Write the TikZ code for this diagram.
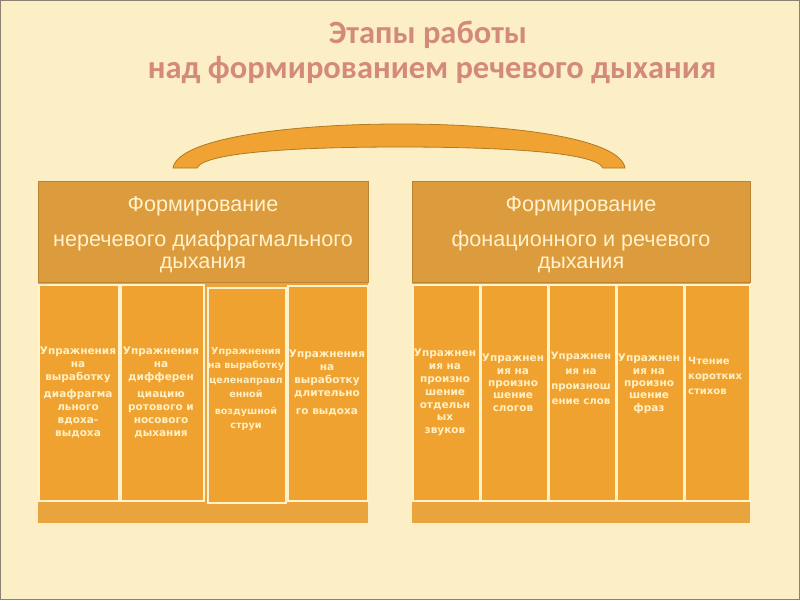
\documentclass[tikz,border=0pt]{standalone}
\usepackage{fontspec}
\setmainfont{Liberation Sans}
\newfontfamily\titlefont{Carlito}
\newfontfamily\colfont{DejaVu Sans}
\definecolor{bgc}{HTML}{FCEFC6}
\definecolor{frame}{HTML}{8C8274}
\definecolor{titlec}{HTML}{D48A7A}
\definecolor{arcfill}{HTML}{F0A232}
\definecolor{arcline}{HTML}{B07A22}
\definecolor{hdrc}{HTML}{DC9B3C}
\definecolor{colc}{HTML}{EFA22F}
\definecolor{stripc}{HTML}{E9A43E}
\definecolor{creamc}{HTML}{FFF2CC}
\definecolor{txtc}{HTML}{FFF0C4}
\tikzset{
  titletxt/.style={font=\titlefont\bfseries\fontsize{32.5}{36}\selectfont, text=titlec, inner sep=0},
  grpbox/.style={fill=stripc, draw=none, anchor=north west, inner sep=0},
  hdrbox/.style={fill=hdrc, draw=hdrc!85!black, line width=0.5pt, anchor=north west, inner sep=0},
  hdrtxt/.style={text=creamc, align=center, inner sep=0, font=\fontsize{21.6}{22}\selectfont},
  colbox/.style={fill=colc, draw=creamc, line width=1.5pt, anchor=north west, inner sep=0},
  coltxt/.style={text=txtc, align=center, anchor=north, inner sep=0,
     font=\colfont\bfseries\fontsize{10.5}{13}\selectfont},
}
\begin{document}
\begin{tikzpicture}[x=1pt,y=-1pt]
\useasboundingbox (0,0) rectangle (800,600);
\fill[bgc] (0,0) rectangle (800,600);
\draw[frame, line width=1pt] (0.5,0.5) rectangle (799.5,599.5);

% title
\node[titletxt, anchor=base] (t1) at (428,43) {Этапы работы};
\node[titletxt, anchor=base] (t2) at (432,78) {над формированием речевого дыхания};

% arc
\filldraw[fill=arcfill, draw=arcline, line width=0.8pt]
  (173,168) .. controls (178,138) and (290,124) .. (400,124)
  .. controls (510,124) and (620,138) .. (625,168)
  -- (603,168) .. controls (596,152) and (500,147) .. (400,147)
  .. controls (300,147) and (204,152) .. (197,168) -- cycle;

% left group
\node[grpbox, minimum width=330pt, minimum height=342pt] (gL) at (38,181) {};
\node[hdrbox, minimum width=330pt, minimum height=101pt] (hL) at (38,181) {};
\node[hdrtxt] (hLt) at (203,235) {Формирование\\[13pt]неречевого диафрагмального\\дыхания};
\node[colbox, minimum width=80pt, minimum height=216pt] (c1) at (38,284) {};
\node[colbox, minimum width=83pt, minimum height=216pt] (c2) at (120,284) {};
\node[colbox, minimum width=78pt, minimum height=215pt] (c3) at (207,287) {};
\node[colbox, minimum width=80pt, minimum height=215pt] (c4) at (287,285) {};

\node[coltxt] (c1t) at (78,347) {Упражнения\\на\\выработку\\[4pt]диафрагма\\льного\\вдоха-\\выдоха};
\node[coltxt] (c2t) at (161,347) {Упражнения\\на\\дифферен\\[4pt]циацию\\ротового и\\носового\\дыхания};
\node[coltxt, font=\colfont\bfseries\fontsize{9.6}{14.5}\selectfont] (c3t) at (246,347)
  {Упражнения\\на выработку\\целенаправл\\енной\\[2pt]воздушной\\струи};
\node[coltxt] (c4t) at (327,350) {Упражнения\\на\\выработку\\длительно\\[5pt]го выдоха};

% right group
\node[grpbox, minimum width=338pt, minimum height=342pt] (gR) at (412,181) {};
\node[hdrbox, minimum width=338pt, minimum height=101pt] (hR) at (412,181) {};
\node[hdrtxt] (hRt) at (581,235) {Формирование\\[13pt]фонационного и речевого\\дыхания};
\node[colbox, minimum width=67pt, minimum height=216pt] (r1) at (412,284) {};
\node[colbox, minimum width=67pt, minimum height=216pt] (r2) at (480,284) {};
\node[colbox, minimum width=67pt, minimum height=216pt] (r3) at (548,284) {};
\node[colbox, minimum width=67pt, minimum height=216pt] (r4) at (616,284) {};
\node[colbox, minimum width=65pt, minimum height=216pt] (r5) at (684,284) {};

\node[coltxt, font=\colfont\bfseries\fontsize{10.5}{12.8}\selectfont] (r1t) at (445,349)
  {Упражнен\\ия на\\произно\\шение\\отдельн\\ых\\звуков};
\node[coltxt, font=\colfont\bfseries\fontsize{10.5}{12.3}\selectfont] (r2t) at (513,354)
  {Упражнен\\ия на\\произно\\шение\\слогов};
\node[coltxt, font=\colfont\bfseries\fontsize{10.2}{15}\selectfont] (r3t) at (581,352)
  {Упражнен\\ия на\\произнош\\ение слов};
\node[coltxt, font=\colfont\bfseries\fontsize{10.5}{12.3}\selectfont] (r4t) at (649,354)
  {Упражнен\\ия на\\произно\\шение\\фраз};
\node[coltxt, align=left, anchor=north west, font=\colfont\bfseries\fontsize{10}{15}\selectfont] (r5t) at (688,357)
  {Чтение\\коротких\\стихов};
\end{tikzpicture}
\end{document}
